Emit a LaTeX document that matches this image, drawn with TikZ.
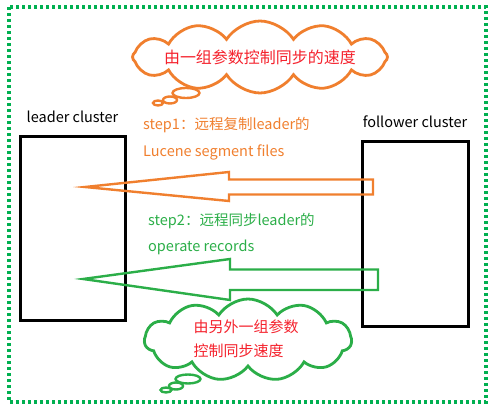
\documentclass[tikz,border=0pt]{standalone}
\usepackage{fontspec}
\setmainfont{Noto Sans CJK SC}
\usetikzlibrary{positioning,shapes.symbols,shapes.geometric}
\definecolor{ccrorange}{HTML}{F07F2E}
\definecolor{ccrgreen}{HTML}{2BAE48}
\definecolor{ccrdot}{HTML}{00B050}
\definecolor{ccrred}{HTML}{F5222D}

\begin{document}
\begin{tikzpicture}[
x=1pt, y=-1pt,
font=\fontsize{14.5}{17}\selectfont,
cluster/.style={draw, line width=3pt, inner sep=0pt},
bigarrow/.style={line width=2.4pt, line join=miter},
cloudbox/.style={cloud, cloud puffs=12, cloud puff arc=115, aspect=3.2, line width=2.8pt, fill=white, inner sep=0pt},
puff/.style={ellipse, line width=2.4pt, fill=white, inner sep=0pt},
steptxt/.style={anchor=west, inner sep=0pt}
]
\useasboundingbox (0,0) rectangle (499,411);
\draw[ccrdot, line width=3.4pt, dash pattern=on 3pt off 3pt] (9,7) rectangle (486,402);

% the two clusters
\node[cluster, minimum width=105pt, minimum height=184pt] (leader) at (72.5,229) {};
\node[cluster, minimum width=106pt, minimum height=185pt] (follower) at (415,234.5) {};
\node[above=9pt of leader.north] (leaderlbl) {leader cluster};
\node[above=9pt of follower.north] (followerlbl) {follower cluster};

% step1: segment files
\coordinate (tip1) at (85,187);
\draw[bigarrow, ccrorange] (tip1) -- (229,172) -- (229,179.5) -- (373,179.5) -- (373,194.5)
  -- (229,194.5) -- (229,201) -- cycle;
\node[steptxt, text=ccrorange] (step1a) at (143,125) {step1：远程复制leader的};
\node[steptxt, text=ccrorange, below=12pt of step1a.south west, anchor=north west] (step1b) {Lucene segment files};

% step2: operate records
\coordinate (tip2) at (83,279);
\draw[bigarrow, ccrgreen] (tip2) -- (230,259) -- (230,269.5) -- (378,269.5) -- (378,290)
  -- (230,290) -- (230,300) -- cycle;
\node[steptxt, text=ccrgreen] (step2a) at (148,221) {step2：远程同步leader的};
\node[steptxt, text=ccrgreen, below=11pt of step2a.south west, anchor=north west] (step2b) {operate records};

% speed clouds
\node[cloudbox, draw=ccrorange, minimum width=255pt, minimum height=72pt] (cloudtop) at (260,57) {};
\node[text=ccrred, font=\fontsize{16}{19}\selectfont] (cloudtoptxt) at (cloudtop) {由一组参数控制同步的速度};
\node[puff, draw=ccrorange, minimum width=27pt, minimum height=10pt] (ptop1) at (186,93) {};
\node[puff, draw=ccrorange, minimum width=14pt, minimum height=7pt] (ptop2) at (170,100) {};
\node[puff, draw=ccrorange, minimum width=10pt, minimum height=5pt] (ptop3) at (158,103) {};

\node[cloudbox, draw=ccrgreen, cloud puffs=11, aspect=2.4, minimum width=207pt, minimum height=82pt] (cloudbot) at (248,340) {};
\node[text=ccrred, align=left, font=\fontsize{15}{24}\selectfont] (cloudbottxt) at (246,339) {由另外一组参数\\控制同步速度};
\node[puff, draw=ccrgreen, minimum width=25pt, minimum height=9pt] (pbot1) at (188,379) {};
\node[puff, draw=ccrgreen, minimum width=14pt, minimum height=7pt] (pbot2) at (176,386) {};
\node[puff, draw=ccrgreen, minimum width=11pt, minimum height=5pt] (pbot3) at (166,390) {};
\end{tikzpicture}
\end{document}
